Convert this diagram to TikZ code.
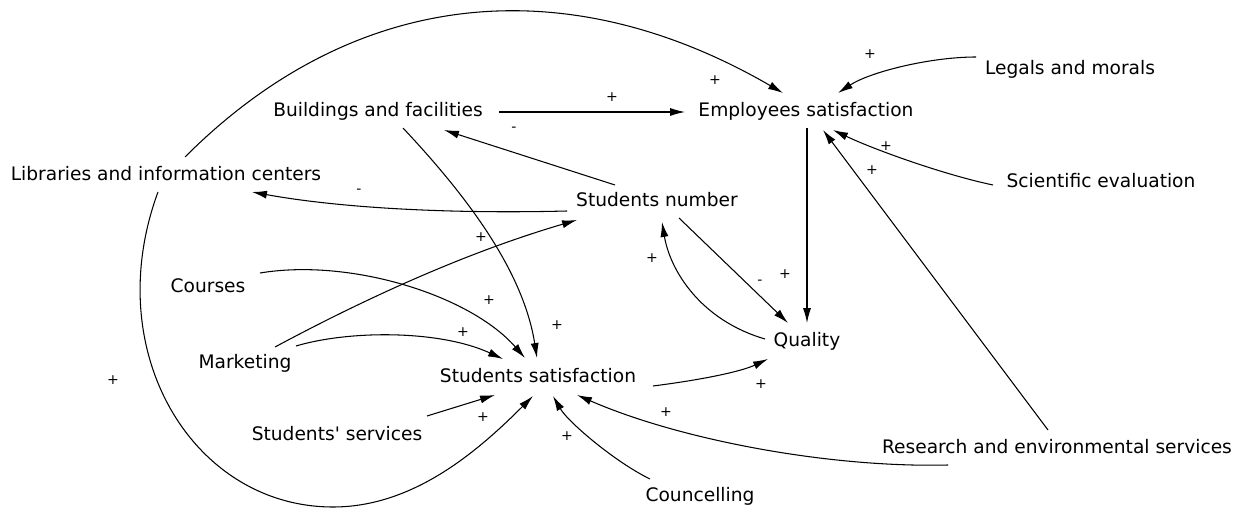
\documentclass[tikz,border=0pt]{standalone}
\usepackage{fontspec}
\setmainfont{DejaVu Sans}
\usepackage{tikz}
\usetikzlibrary{arrows.meta}
\tikzset{
  var/.style  ={inner sep=0pt,text height=8pt,text depth=2.6pt,font=\fontsize{10.6}{12}\selectfont},
  sgn/.style  ={inner sep=0pt,font=\fontsize{8}{9}\selectfont},
  link/.style ={-{Latex[length=8.5pt,width=4.6pt]},line width=0.6pt},
}

\begin{document}
\begin{tikzpicture}[x=0.02cm,y=-0.02cm]
  \path[use as bounding box,fill=white] (0,0) rectangle (1247,509);
  % variables
  \node[var] (bld)  at (378,112)  {Buildings and facilities};
  \node[var] (emp)  at (806,112)  {Employees satisfaction};
  \node[var] (leg)  at (1070,70)  {Legals and morals};
  \node[var] (lib)  at (166,176)  {Libraries and information centers};
  \node[var] (snum) at (657,202)  {Students number};
  \node[var] (sci)  at (1101,183) {Scientific evaluation};
  \node[var] (crs)  at (208,288)  {Courses};
  \node[var] (mkt)  at (245,364)  {Marketing};
  \node[var] (ssat) at (538,378)  {Students satisfaction};
  \node[var] (qly)  at (807,342)  {Quality};
  \node[var] (serv) at (337,436)  {Students\textquotesingle{} services};
  \node[var] (cns)  at (700,497)  {Councelling};
  \node[var] (res)  at (1057,449) {Research and environmental services};

  % long loops round the left side
  \draw[link] ([shift={(19,-19)}]lib.center) .. controls +(173,-173) and +(-212,-123) .. ([shift={(-23,-19)}]emp.center);
  \draw[link] ([shift={(-8,16)}]lib.center) .. controls +(-59,160) and +(-140,0) .. (333,507)
              .. controls +(80,0) and +(-56,56) .. ([shift={(-5,18)}]ssat.center);

  \draw[link] ([shift={(121,0)}]bld.center) -- ([shift={(-121,0)}]emp.center);
  \draw[link] ([shift={(25,16)}]bld.center) .. controls +(61,65) and +(-14,-89) .. ([shift={(-1,-20)}]ssat.center);
  \draw[link] ([shift={(-42,-17)}]snum.center) -- ([shift={(66,18)}]bld.center);
  \draw[link] ([shift={(-90,9)}]snum.center) .. controls +(-117,3) and +(88,16) .. ([shift={(86,16)}]lib.center);
  \draw[link] ([shift={(30,-17)}]mkt.center) .. controls +(97,-52) and +(-106,31) .. ([shift={(-80,18)}]snum.center);

  % into students satisfaction
  \draw[link] ([shift={(52,-15)}]crs.center) .. controls +(90,-15) and +(-55,-63) .. ([shift={(-13,-20)}]ssat.center);
  \draw[link] ([shift={(51,-18)}]mkt.center) .. controls +(54,-16) and +(-63,-29) .. ([shift={(-35,-19)}]ssat.center);
  \draw[link] ([shift={(90,-20)}]serv.center) -- ([shift={(-43,17)}]ssat.center);
  \draw[link] ([shift={(-50,-18)}]cns.center) .. controls +(-35,-17) and +(15,26) .. ([shift={(15,18)}]ssat.center);
  \draw[link] ([shift={(-109,16)}]res.center) .. controls +(-118,3) and +(103,45) .. ([shift={(39,17)}]ssat.center);

  % quality
  \draw[link] ([shift={(115,8)}]ssat.center) .. controls +(47,-6) and +(-28,13) .. ([shift={(-39,17)}]qly.center);
  \draw[link] ([shift={(-42,-3)}]qly.center) .. controls +(-65,-19) and +(8,48) .. ([shift={(5,20)}]snum.center);
  \draw[link] ([shift={(22,16)}]snum.center) -- ([shift={(-19,-19)}]qly.center);
  \draw[link] ([shift={(1,16)}]emp.center) -- ([shift={(0,-19)}]qly.center);

  % into employees satisfaction
  \draw[link] ([shift={(-94,-13)}]leg.center) .. controls +(-46,0) and +(32,-21) .. ([shift={(32,-19)}]emp.center);
  \draw[link] ([shift={(-108,2)}]sci.center) .. controls +(-48,-10) and +(42,20) .. ([shift={(27,18)}]emp.center);
  \draw[link] ([shift={(-9,-19)}]res.center) -- ([shift={(17,18)}]emp.center);

  % polarities
  \node[sgn] (s1)  at (715,80)  {+};
  \node[sgn] (s2)  at (612,97)  {+};
  \node[sgn] (s3)  at (870,54)  {+};
  \node[sgn] (s4)  at (886,146) {+};
  \node[sgn] (s5)  at (872,170) {+};
  \node[sgn] (s6)  at (514,129) {-};
  \node[sgn] (s7)  at (359,191) {-};
  \node[sgn] (s8)  at (481,237) {+};
  \node[sgn] (s9)  at (652,258) {+};
  \node[sgn] (s10) at (760,282) {-};
  \node[sgn] (s11) at (785,274) {+};
  \node[sgn] (s12) at (489,300) {+};
  \node[sgn] (s13) at (557,325) {+};
  \node[sgn] (s14) at (463,332) {+};
  \node[sgn] (s15) at (761,384) {+};
  \node[sgn] (s16) at (666,412) {+};
  \node[sgn] (s17) at (483,417) {+};
  \node[sgn] (s18) at (567,436) {+};
  \node[sgn] (s19) at (113,380) {+};
\end{tikzpicture}
\end{document}
